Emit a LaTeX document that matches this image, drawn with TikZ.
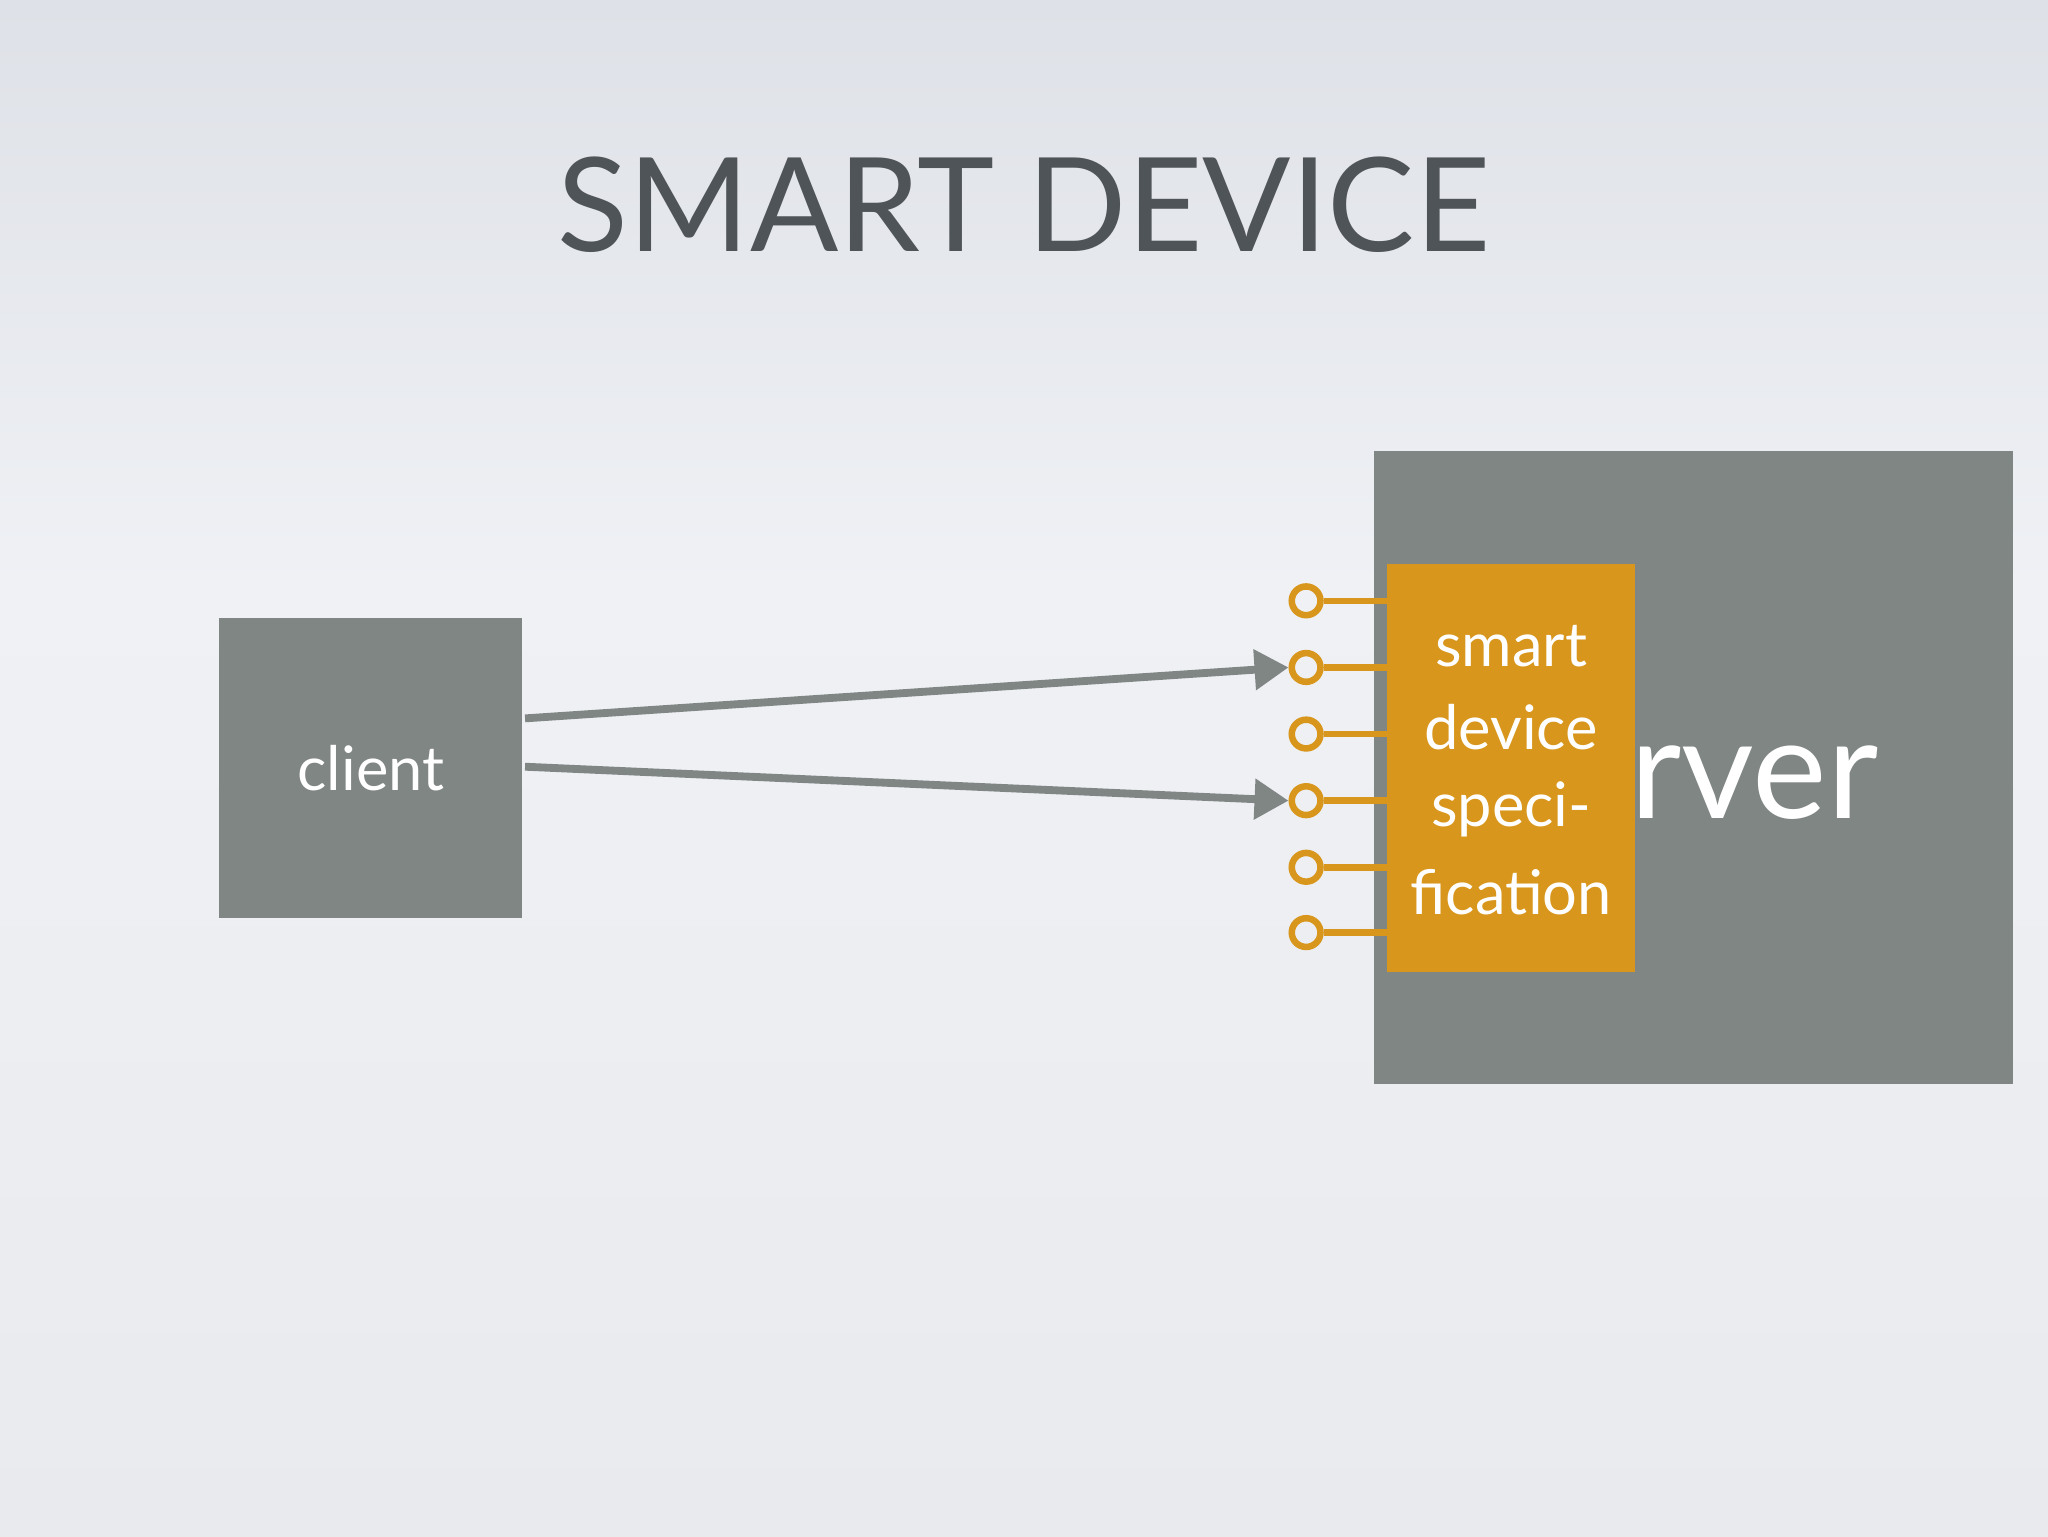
\documentclass[tikz,border=0pt]{standalone}
\usepackage{fontspec}
\setmainfont{Lato}
\usetikzlibrary{arrows.meta}
\definecolor{boxg}{HTML}{808684}
\definecolor{orng}{HTML}{D8961C}
\definecolor{ttl}{HTML}{4F5459}
\tikzset{pin/.style={draw=orng,line width=5pt},
 wtext/.style={text=white,font=\fontsize{47}{52}\selectfont},
 arr/.style={draw=boxg,line width=6pt,-{Triangle[length=26pt,width=30pt]}}}
\begin{document}
\begin{tikzpicture}[x=1pt,y=-1pt]
\useasboundingbox (0,0) rectangle (1568,1176);
\shade[top color={rgb,255:red,222;green,225;blue,231}, bottom color={rgb,255:red,239;green,241;blue,245}] (0,0) rectangle (1568,450);
\shade[top color={rgb,255:red,239;green,241;blue,245}, bottom color={rgb,255:red,232;green,234;blue,238}] (0,449) rectangle (1568,1176);
\node[text=ttl,font=\fontsize{100}{110}\selectfont] (title) at (784,157) {SMART DEVICE};
\node[fill=boxg,minimum width=232pt,minimum height=230pt,inner sep=0] (client) at (284,588) {};
\node[wtext] at (client) {client};
\node[fill=boxg,minimum width=489pt,minimum height=485pt,inner sep=0] (server) at (1296.5,587.5) {};
\node[text=white,font=\fontsize{108}{110}\selectfont,anchor=base west,inner sep=0] at (1248,627) {rver};
\node[fill=orng,minimum width=190pt,minimum height=312pt,inner sep=0] (spec) at (1157,588) {};
\foreach \y/\t in {495/smart,557/device,620/speci-,683/fication}
  \node[wtext] at (1157,\y) {\t};
\foreach \i/\y in {1/460,2/511,3/562,4/613,5/664,6/714}{
  \node[circle,draw=orng,line width=5pt,minimum size=22pt,inner sep=0] (p\i) at (1000,\y) {};
  \draw[pin] (p\i.east) -- (spec.west |- p\i);
}
\coordinate (c1) at (402,550);
\coordinate (c2) at (402,587);
\draw[arr] (c1) -- (p2.west);
\draw[arr] (c2) -- (p4.west);
\end{tikzpicture}
\end{document}
